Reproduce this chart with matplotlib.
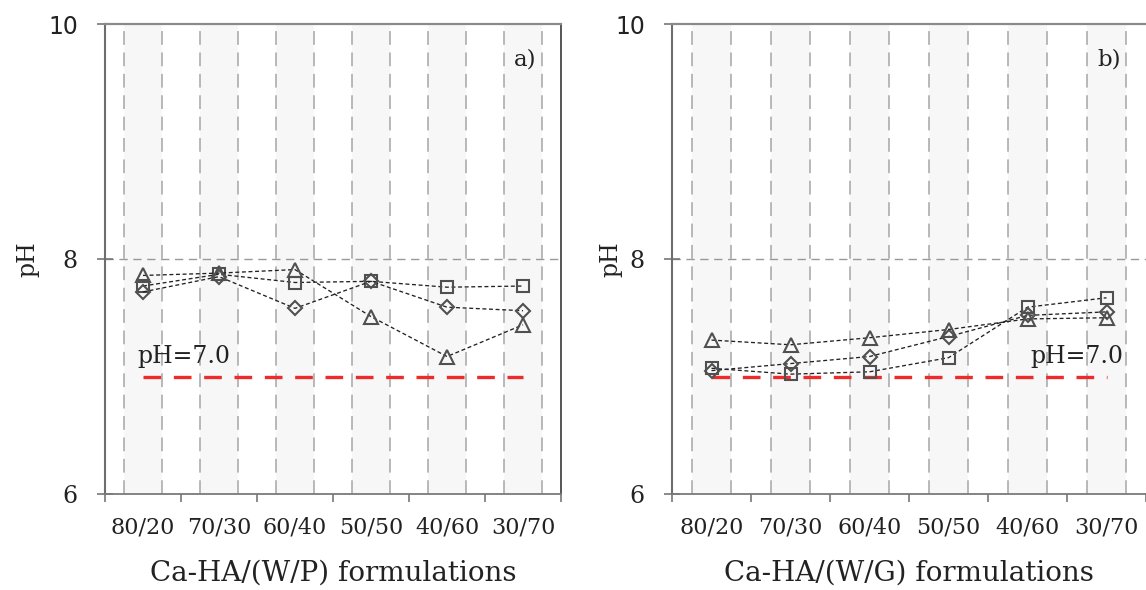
import matplotlib
matplotlib.use('Agg')
import matplotlib.pyplot as plt

# data
cats = ['80/20', '70/30', '60/40', '50/50', '40/60', '30/70']

a_square = [7.77, 7.87, 7.80, 7.81, 7.76, 7.77]
a_diamond = [7.72, 7.85, 7.58, 7.81, 7.59, 7.56]
a_triangle = [7.86, 7.88, 7.91, 7.51, 7.17, 7.44]

b_square = [7.07, 7.02, 7.04, 7.16, 7.59, 7.67]
b_diamond = [7.05, 7.11, 7.17, 7.34, 7.52, 7.55]
b_triangle = [7.31, 7.27, 7.33, 7.40, 7.49, 7.50]

ref_ph = 7.0
yticks = [6, 8, 10]

W, H = 1146, 590
SERIF = 'DejaVu Serif'
SANS = 'DejaVu Sans'

fig = plt.figure(figsize=(W / 100, H / 100), dpi=100)


def panel(left, right, series, tag, xlabel, ph_x, ph_ha, right_spine, ylab_x):
    ax = fig.add_axes([left / W, (H - 494) / H, (right - left) / W, 470 / H])
    n = len(cats)
    x = list(range(n))
    ax.set_xlim(-0.5, n - 0.5)
    ax.set_ylim(6, 10)

    # shaded bands and dashed grid around each category
    for i in x:
        ax.axvspan(i - 0.25, i + 0.25, color='#f7f7f7', zorder=0, lw=0)
        for d in (-0.25, 0.25):
            ax.axvline(i + d, color='#a5a5a5', lw=1.1, ls=(0, (9, 5)), zorder=1)
    ax.axhline(8, color='#999999', lw=1.0, ls=(0, (6, 4)), zorder=1)

    # reference line
    ax.plot([x[0], x[-1]], [ref_ph, ref_ph], color='#ee2a2a', lw=2.4,
            ls=(0, (5.3, 3.8)), zorder=2)

    mk = {'s': 9, 'D': 7, '^': 9.5}
    for vals, m in series:
        ax.plot(x, vals, color='#222222', lw=0.95, ls=(0, (3, 2)),
                marker=m, ms=mk[m], mfc='none', mec='#505050', mew=1.5, zorder=3)

    ax.text(ph_x, 7.17, 'pH=7.0', ha=ph_ha, va='center', fontsize=17,
            family=SERIF, color='#222222', zorder=4)
    ax.text(5.03, 9.70, tag, ha='center', va='center', fontsize=16.5,
            family=SERIF, color='#222222')

    # ticks: major at category boundaries, labels at centres
    ax.set_xticks([i - 0.5 for i in range(n + 1)])
    ax.set_xticklabels([])
    ax.set_xticks(x, minor=True)
    ax.set_xticklabels(cats, minor=True, fontsize=16, family=SERIF, color='#222222')
    ax.tick_params(axis='x', which='major', direction='out', length=6,
                   width=1.2, color='#777777')
    ax.tick_params(axis='x', which='minor', length=0, pad=16)

    ax.set_yticks(yticks)
    ax.set_yticklabels([str(v) for v in yticks])
    ax.tick_params(axis='y', direction='inout', length=11, width=1.2,
                   color='#777777', pad=14, labelsize=17, labelcolor='#222222')
    for t in ax.get_yticklabels():
        t.set_family(SANS if t.get_text() == '10' else SERIF)

    ax.set_ylabel('pH', fontsize=17, family=SERIF, color='#222222')
    ax.yaxis.set_label_coords(ylab_x, 0.5)

    ax.text(0.5, -0.168, xlabel, transform=ax.transAxes, ha='center', va='center',
            fontsize=20, family=SERIF, color='#222222')

    ax.spines['left'].set_color('#6e6e6e')
    ax.spines['left'].set_linewidth(1.5)
    ax.spines['top'].set_color('#8a8a8a')
    ax.spines['top'].set_linewidth(1.6)
    ax.spines['bottom'].set_color('#7a7a7a')
    ax.spines['bottom'].set_linewidth(1.3)
    ax.spines['right'].set_color('#555555')
    ax.spines['right'].set_linewidth(1.4)
    ax.spines['right'].set_visible(right_spine)
    return ax


panel(105, 561, [(a_square, 's'), (a_diamond, 'D'), (a_triangle, '^')],
      'a)', 'Ca-HA/(W/P) formulations', -0.07, 'left', True, -0.145)
panel(672, 1146, [(b_square, 's'), (b_diamond, 'D'), (b_triangle, '^')],
      'b)', 'Ca-HA/(W/G) formulations', 5.21, 'right', False, -0.105)

fig.savefig('out.png', dpi=100)
